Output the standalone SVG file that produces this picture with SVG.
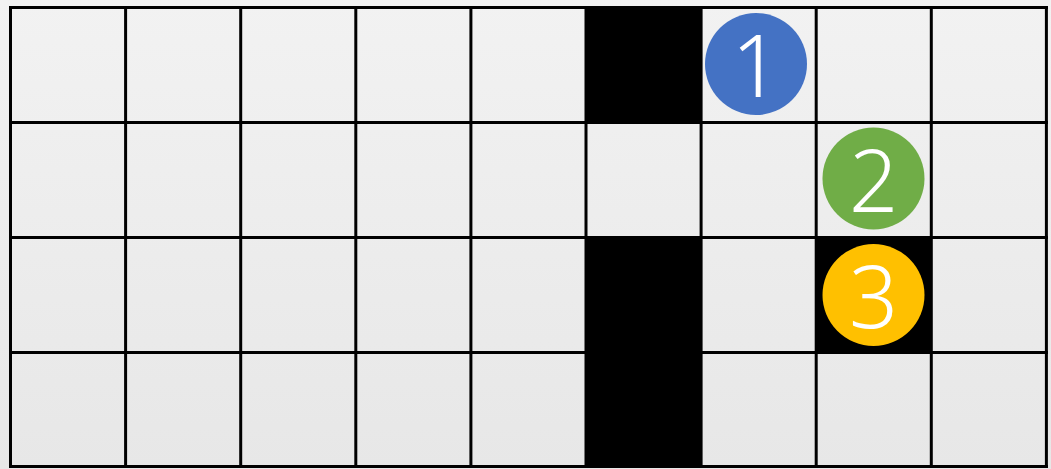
<svg xmlns="http://www.w3.org/2000/svg" width="1051" height="469" viewBox="0 0 1051 469">
<defs>
<linearGradient id="bg" x1="0" y1="0" x2="0" y2="1">
<stop offset="0" stop-color="#f2f2f2"/>
<stop offset="1" stop-color="#e7e7e7"/>
</linearGradient>
<style>
.wall{fill:#000}
.grid line{stroke:#000;stroke-width:3}
.num{font-family:"Noto Sans",Lato,sans-serif;font-weight:300;font-size:86px;fill:#fff;text-anchor:middle}
</style>
</defs>
<rect width="1051" height="469" fill="url(#bg)"/>
<g id="walls">
<rect class="wall" x="586" y="7.5" width="115.1" height="114.75"/>
<rect class="wall" x="586" y="237" width="115.1" height="229.5"/>
<rect class="wall" x="816.2" y="237" width="115.1" height="114.75"/>
</g>
<g class="grid" id="grid">
<line x1="10.5" y1="7.5" x2="10.5" y2="466.5"/>
<line x1="125.6" y1="7.5" x2="125.6" y2="466.5"/>
<line x1="240.7" y1="7.5" x2="240.7" y2="466.5"/>
<line x1="355.8" y1="7.5" x2="355.8" y2="466.5"/>
<line x1="470.9" y1="7.5" x2="470.9" y2="466.5"/>
<line x1="586" y1="7.5" x2="586" y2="466.5"/>
<line x1="701.1" y1="7.5" x2="701.1" y2="466.5"/>
<line x1="816.2" y1="7.5" x2="816.2" y2="466.5"/>
<line x1="931.3" y1="7.5" x2="931.3" y2="466.5"/>
<line x1="1046.4" y1="7.5" x2="1046.4" y2="466.5"/>
<line x1="9" y1="7.5" x2="1048" y2="7.5"/>
<line x1="9" y1="122.5" x2="1048" y2="122.5"/>
<line x1="9" y1="237.5" x2="1048" y2="237.5"/>
<line x1="9" y1="352.5" x2="1048" y2="352.5"/>
<line x1="9" y1="466.5" x2="1048" y2="466.5"/>
</g>
<g id="n1">
<circle cx="756" cy="64" r="51" fill="#4472c4"/>
<text class="num" x="756" y="97">1</text>
</g>
<g id="n2">
<circle cx="873.5" cy="178.5" r="51" fill="#70ad47"/>
<text class="num" x="873.5" y="211.5">2</text>
</g>
<g id="n3">
<circle cx="873.5" cy="295" r="51" fill="#ffc000"/>
<text class="num" x="873.5" y="328">3</text>
</g>
</svg>
